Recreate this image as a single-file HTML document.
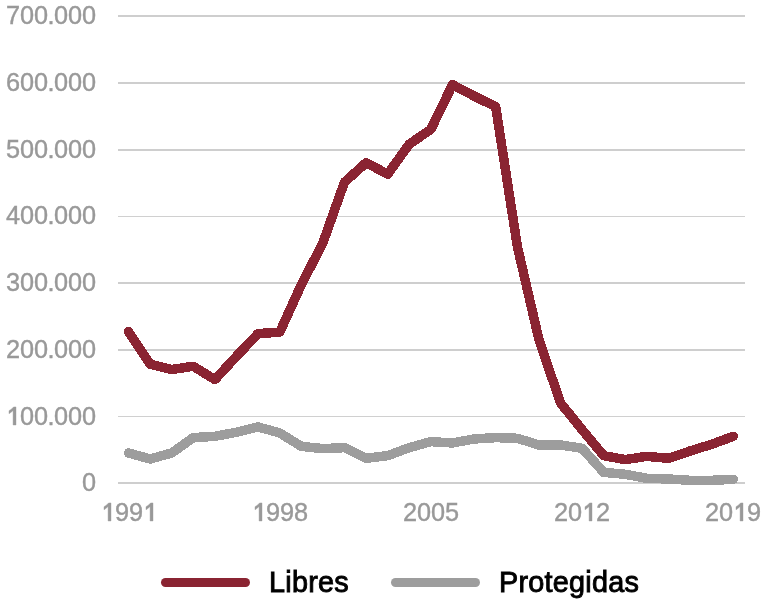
<!DOCTYPE html>
<html><head><meta charset="utf-8"><style>
html,body{margin:0;padding:0;background:#fff;width:783px;height:607px;overflow:hidden}
svg{display:block;will-change:transform;font-family:"Liberation Sans",sans-serif}
</style></head><body>
<svg width="783" height="607" viewBox="0 0 783 607">
<g shape-rendering="crispEdges"><rect x="118" y="482" width="627" height="2" fill="#cecece"/><rect x="118" y="416" width="627" height="1" fill="#d0d0d0"/><rect x="118" y="349" width="627" height="2" fill="#cecece"/><rect x="118" y="282" width="627" height="2" fill="#cecece"/><rect x="118" y="216" width="627" height="1" fill="#d0d0d0"/><rect x="118" y="149" width="627" height="2" fill="#cecece"/><rect x="118" y="82" width="627" height="2" fill="#cecece"/><rect x="118" y="15" width="627" height="2" fill="#cecece"/></g>
<g fill="#999999" stroke="#999999" stroke-width="0.4" font-size="25.33" text-anchor="middle"><text x="89.00" y="491.00">0</text><path transform="translate(6.00,425.00)" d="M10,0L7.1,0L7.1,-14.4Q5.2,-12.6 3,-11.3L3,-14.3Q5.9,-15.9 7.6,-18.1L10,-18.1Z"/><text x="27.00" y="425.00">0</text><text x="41.00" y="425.00">0</text><text x="51.00" y="425.00">.</text><text x="61.00" y="425.00">0</text><text x="75.00" y="425.00">0</text><text x="89.00" y="425.00">0</text><text x="13.00" y="358.00">2</text><text x="27.00" y="358.00">0</text><text x="41.00" y="358.00">0</text><text x="51.00" y="358.00">.</text><text x="61.00" y="358.00">0</text><text x="75.00" y="358.00">0</text><text x="89.00" y="358.00">0</text><text x="13.00" y="291.00">3</text><text x="27.00" y="291.00">0</text><text x="41.00" y="291.00">0</text><text x="51.00" y="291.00">.</text><text x="61.00" y="291.00">0</text><text x="75.00" y="291.00">0</text><text x="89.00" y="291.00">0</text><text x="13.00" y="224.00">4</text><text x="27.00" y="224.00">0</text><text x="41.00" y="224.00">0</text><text x="51.00" y="224.00">.</text><text x="61.00" y="224.00">0</text><text x="75.00" y="224.00">0</text><text x="89.00" y="224.00">0</text><text x="13.00" y="158.00">5</text><text x="27.00" y="158.00">0</text><text x="41.00" y="158.00">0</text><text x="51.00" y="158.00">.</text><text x="61.00" y="158.00">0</text><text x="75.00" y="158.00">0</text><text x="89.00" y="158.00">0</text><text x="13.00" y="91.00">6</text><text x="27.00" y="91.00">0</text><text x="41.00" y="91.00">0</text><text x="51.00" y="91.00">.</text><text x="61.00" y="91.00">0</text><text x="75.00" y="91.00">0</text><text x="89.00" y="91.00">0</text><text x="13.00" y="24.00">7</text><text x="27.00" y="24.00">0</text><text x="41.00" y="24.00">0</text><text x="51.00" y="24.00">.</text><text x="61.00" y="24.00">0</text><text x="75.00" y="24.00">0</text><text x="89.00" y="24.00">0</text><path transform="translate(101.00,521.00)" d="M10,0L7.1,0L7.1,-14.4Q5.2,-12.6 3,-11.3L3,-14.3Q5.9,-15.9 7.6,-18.1L10,-18.1Z"/><text x="122.00" y="521.00">9</text><text x="136.00" y="521.00">9</text><path transform="translate(143.00,521.00)" d="M10,0L7.1,0L7.1,-14.4Q5.2,-12.6 3,-11.3L3,-14.3Q5.9,-15.9 7.6,-18.1L10,-18.1Z"/><path transform="translate(252.00,521.00)" d="M10,0L7.1,0L7.1,-14.4Q5.2,-12.6 3,-11.3L3,-14.3Q5.9,-15.9 7.6,-18.1L10,-18.1Z"/><text x="273.00" y="521.00">9</text><text x="287.00" y="521.00">9</text><text x="301.00" y="521.00">8</text><text x="410.00" y="521.00">2</text><text x="424.00" y="521.00">0</text><text x="438.00" y="521.00">0</text><text x="452.00" y="521.00">5</text><text x="561.00" y="521.00">2</text><text x="575.00" y="521.00">0</text><path transform="translate(582.00,521.00)" d="M10,0L7.1,0L7.1,-14.4Q5.2,-12.6 3,-11.3L3,-14.3Q5.9,-15.9 7.6,-18.1L10,-18.1Z"/><text x="603.00" y="521.00">2</text><text x="712.00" y="521.00">2</text><text x="726.00" y="521.00">0</text><path transform="translate(733.00,521.00)" d="M10,0L7.1,0L7.1,-14.4Q5.2,-12.6 3,-11.3L3,-14.3Q5.9,-15.9 7.6,-18.1L10,-18.1Z"/><text x="754.00" y="521.00">9</text></g>
<polyline points="128.50,452.98 150.10,458.98 171.70,452.98 193.30,437.63 214.90,436.30 236.50,432.30 258.10,426.96 279.70,432.96 301.30,446.31 322.90,448.64 344.50,447.64 366.10,458.32 387.70,455.65 409.30,447.64 430.90,441.64 452.50,442.97 474.10,438.97 495.70,437.63 517.30,438.30 538.90,444.97 560.50,444.97 582.10,448.31 603.70,472.33 625.30,474.33 646.90,478.33 668.50,479.00 690.10,480.33 711.70,480.33 733.30,479.33" fill="none" stroke="#9d9d9d" stroke-width="9.5" stroke-linejoin="round" stroke-linecap="round" shape-rendering="crispEdges"/>
<polyline points="128.50,331.56 150.10,364.25 171.70,369.59 193.30,366.25 214.90,379.59 236.50,356.24 258.10,333.56 279.70,332.23 301.30,284.86 322.90,242.83 344.50,182.12 366.10,162.77 387.70,174.11 409.30,144.09 430.90,129.41 452.50,84.72 474.10,96.06 495.70,106.73 517.30,246.16 538.90,339.56 560.50,402.94 582.10,429.63 603.70,455.65 625.30,459.65 646.90,456.31 668.50,458.32 690.10,450.98 711.70,444.31 733.30,436.30" fill="none" stroke="#8A2432" stroke-width="9.5" stroke-linejoin="round" stroke-linecap="round" shape-rendering="crispEdges"/>
<line x1="165.5" y1="582.5" x2="245.5" y2="582.5" stroke="#8A2432" stroke-width="9" stroke-linecap="round"/>
<line x1="395.5" y1="582.5" x2="475.5" y2="582.5" stroke="#9d9d9d" stroke-width="9" stroke-linecap="round"/>
<g fill="#000" stroke="#000" stroke-width="0.9" font-size="28.8" letter-spacing="0.25"><text x="269" y="591.5">Libres</text><text x="499" y="591.5">Protegidas</text></g>
</svg>
</body></html>
